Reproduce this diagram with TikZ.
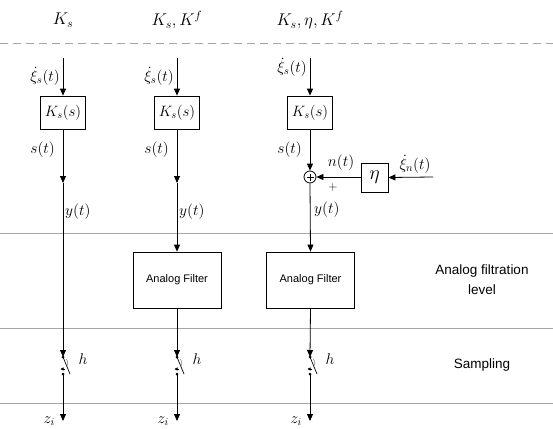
\RequirePackage{fix-cm}
\documentclass[tikz,border=0pt]{standalone}
\usepackage{fontspec}
\newfontfamily\arialf{Liberation Sans}
\usetikzlibrary{arrows.meta}
\begin{document}
\begin{tikzpicture}[x=1pt,y=-1pt,
  sig/.style={line width=0.8pt,black},
  arr/.style={sig,-{Triangle[length=7pt,width=6pt]}},
  blk/.style={draw,line width=0.8pt,minimum width=45pt,minimum height=33pt,inner sep=0pt,font=\fontsize{15}{17}\selectfont},
  filt/.style={draw,line width=0.8pt,minimum width=88pt,minimum height=56pt,inner sep=0pt,font=\arialf\fontsize{11}{13}\selectfont},
  lvl/.style={gray!70,line width=1pt},
  lab/.style={inner sep=0pt,font=\fontsize{15.5}{17}\selectfont},
  toplab/.style={inner sep=0pt,font=\fontsize{17}{19}\selectfont},
  sans/.style={inner sep=0pt,align=center,font=\arialf\fontsize{13.5}{20}\selectfont},
  dot/.style={circle,fill,inner sep=0pt,minimum size=3pt}]
\useasboundingbox (0,0) rectangle (553,428);
% top labels
\node[toplab] (t1) at (63,20) {$K_s$};
\node[toplab] (t2) at (177,20) {$K_s,K^f$};
\node[toplab] (t3) at (310,20) {$K_s,\eta,K^f$};
% level lines
\draw[gray!70,line width=1pt,dash pattern=on 8pt off 5pt] (0,44) -- (553,44);
\draw[lvl] (0,233) -- (553,233);
\draw[lvl] (0,328) -- (553,328);
\draw[lvl] (0,403) -- (553,403);
% right labels
\node[sans] (afl) at (482,280) {Analog filtration\\level};
\node[sans] (smp) at (482,365) {Sampling};
% ---- column nodes
\foreach \c/\n in {63/a,177/b,310/c}{
  \coordinate (top\n) at (\c,58);
  \node[blk] (ks\n) at (\c,112.5) {$K_s(s)$};
  \coordinate (sw\n) at (\c,357);
  \coordinate (swl\n) at (\c,374);
  \coordinate (bot\n) at (\c,421);
  \node[lab,left] (zl\n) at (\c-8,421) {$z_i$};
  \node[lab] (h\n) at (\c+20,359) {$h$};
}
\node[lab,left] (xa) at (60,76) {$\dot\xi_s(t)$};
\node[lab,left] (xb) at (174,76) {$\dot\xi_s(t)$};
\node[lab,left] (xc) at (307,67) {$\dot\xi_s(t)$};
\node[lab,left] (sa) at (55,150) {$s(t)$};
\node[lab,left] (sb) at (169,150) {$s(t)$};
\node[lab,left] (sc) at (302,150) {$s(t)$};
\node[lab,right] (ya) at (65,212) {$y(t)$};
\node[lab,right] (yb) at (179,212) {$y(t)$};
\node[lab,right] (yc) at (314,210) {$y(t)$};
% column 1
\coordinate (ma) at (63,183);
\draw[arr] (topa) -- (ksa.north);
\draw[arr] (ksa.south) -- (ma);
\draw[arr] (ma) -- (swa);
% column 2
\coordinate (mb) at (177,183);
\node[filt] (fb) at (177,280) {Analog Filter};
\draw[arr] (topb) -- (ksb.north);
\draw[arr] (ksb.south) -- (mb);
\draw[arr] (mb) -- (fb.north);
\draw[arr] (fb.south) -- (swb);
% column 3
\node[draw,circle,line width=0.8pt,minimum size=12pt,inner sep=0pt] (sum) at (310,177) {};
\draw[line width=0.6pt] ([xshift=-3.5pt]sum.center) -- ([xshift=3.5pt]sum.center)
      ([yshift=-3.5pt]sum.center) -- ([yshift=3.5pt]sum.center);
\node[draw,line width=0.8pt,minimum width=27pt,minimum height=29pt,inner sep=0pt] (eta) at (374.5,177.5) {\fontsize{20}{22}\selectfont$\eta$};
\coordinate (nin) at (433,177);
\node[lab] (xn) at (415,164) {$\dot\xi_n(t)$};
\node[lab] (nt) at (341,163) {$n(t)$};
\node[inner sep=0pt,font=\fontsize{12}{13}\selectfont] (plus) at (333,187) {$+$};
\node[filt] (fc) at (310.5,280) {Analog Filter};
\draw[arr] (topc) -- (ksc.north);
\draw[arr] (ksc.south) -- (sum.north);
\draw[arr] (nin) -- (eta.east);
\draw[arr] (eta.west |- sum.east) -- (sum.east);
\draw[arr] (sum.south) -- (fc.north);
\draw[arr] (fc.south) -- (swc);
% switches and outputs
\foreach \n in {a,b,c}{
  \node[dot] at (sw\n) {};
  \node[dot] at (swl\n) {};
  \draw[line width=0.7pt] (sw\n) -- ++(7,17);
  \draw[gray,line width=0.5pt] (sw\n) ++(3,2) to[bend left=50] ++(0,8);
  \draw[line width=0.5pt,-{Triangle[length=3pt,width=3pt]}] (swl\n) ++(1.5,-5) -- ++(-4,0);
  \draw[arr] (swl\n) -- (bot\n);
}
\end{tikzpicture}
\end{document}
